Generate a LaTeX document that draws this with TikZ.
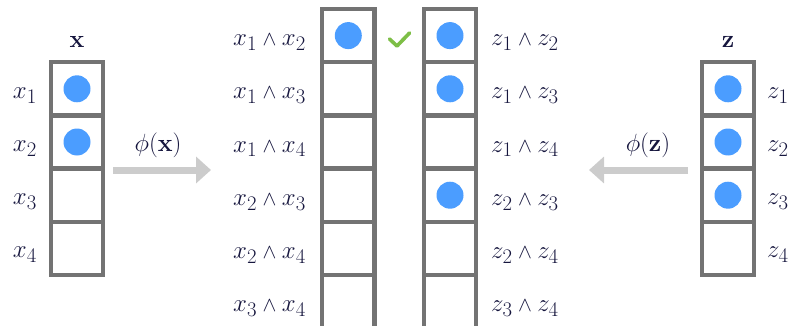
\documentclass[tikz,border=0pt]{standalone}
\usetikzlibrary{arrows.meta}
\definecolor{cellgray}{RGB}{115,115,115}
\definecolor{dotblue}{RGB}{75,157,255}
\definecolor{arrgray}{RGB}{204,204,204}
\definecolor{chkgreen}{RGB}{125,190,70}
\definecolor{txtnavy}{RGB}{22,22,62}
\newcommand{\wdg}{\mathbin{\scriptstyle\wedge}}
\begin{document}
\begin{tikzpicture}[x=1pt,y=-1pt,
  cellbox/.style={draw=cellgray,line width=4.3pt,minimum width=52.3pt,minimum height=53.2pt,inner sep=0pt,outer sep=0pt},
  dot/.style={circle,fill=dotblue,minimum size=27pt,inner sep=0pt},
  lbl/.style={text=txtnavy,inner sep=0pt,font=\fontsize{28}{32}\selectfont},
  bigarrow/.style={draw=arrgray,line width=7pt,-{Triangle[length=15pt,width=26pt]}}]
\clip (0,0) rectangle (794,326);
% outer columns
\foreach \k/\c in {1/88.8,2/142,3/195.2,4/248.4}{
  \node[cellbox] (X\k) at (77,\c) {};
  \node[lbl,anchor=base east] (XL\k) at (37,\c+9.5) {$x_{\k}$};
  \node[cellbox] (Z\k) at (728,\c) {};
  \node[lbl,anchor=base west] (ZL\k) at (767,\c+9.5) {$z_{\k}$};
}
\node[lbl,anchor=base] (XT) at (77,48) {$\mathbf{x}$};
\node[lbl,anchor=base] (ZT) at (728,48) {$\mathbf{z}$};
% middle columns
\foreach \k/\c/\a/\b in {1/35.6/1/2,2/88.8/1/3,3/142/1/4,4/195.2/2/3,5/248.4/2/4,6/301.6/3/4}{
  \node[cellbox] (PX\k) at (348.3,\c) {};
  \node[cellbox] (PZ\k) at (450,\c) {};
  \node[lbl,anchor=base east] (PXL\k) at (306,\c+10) {$x_{\a}\wdg x_{\b}$};
  \node[lbl,anchor=base west] (PZL\k) at (491,\c+10) {$z_{\a}\wdg z_{\b}$};
}
% dots
\node[dot] (dX1) at (X1) {};
\node[dot] (dX2) at (X2) {};
\node[dot] (dZ1) at (Z1) {};
\node[dot] (dZ2) at (Z2) {};
\node[dot] (dZ3) at (Z3) {};
\node[dot] (dPX1) at (PX1) {};
\node[dot] (dPZ1) at (PZ1) {};
\node[dot] (dPZ2) at (PZ2) {};
\node[dot] (dPZ4) at (PZ4) {};
% check mark
\draw[chkgreen,line width=3.6pt,line cap=round,line join=round] (389.5,39) -- (397,46) -- (409.5,33);
% arrows
\coordinate (ax1) at (113,170);
\coordinate (ax2) at (211,170);
\coordinate (az1) at (688,170);
\coordinate (az2) at (589,170);
\draw[bigarrow] (ax1) -- (ax2);
\draw[bigarrow] (az1) -- (az2);
\node[lbl,anchor=base] (phix) at (158,151) {$\phi(\mathbf{x})$};
\node[lbl,anchor=base] (phiz) at (648,151) {$\phi(\mathbf{z})$};
\end{tikzpicture}
\end{document}
